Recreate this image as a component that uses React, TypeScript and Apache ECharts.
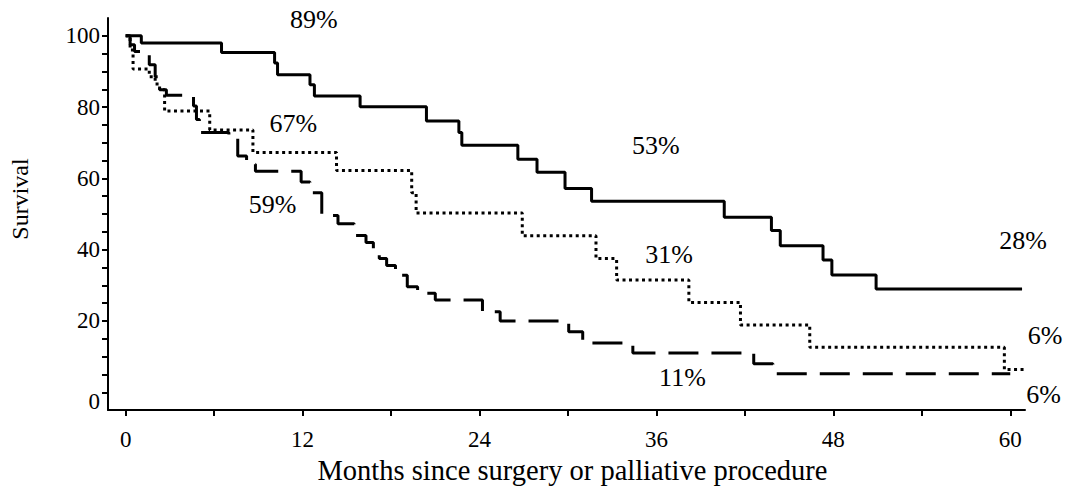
import React, { useEffect, useRef } from "react";
import * as echarts from "echarts";

// Kaplan–Meier style step curves: [month, survival %] — value from that month on
const solidCurve: number[][] = [
  [0, 100], [1.06, 98], [6.5, 95.3], [10.1, 92.4], [10.3, 89.1], [12.5, 86.3],
  [12.8, 83.1], [15.9, 80.1], [20.4, 76.1], [22.6, 72.9], [22.8, 69.3],
  [26.6, 65.4], [27.9, 61.7], [29.8, 57.2], [31.6, 53.6], [40.6, 49.1],
  [43.8, 45.4], [44.4, 41.1], [47.3, 37.1], [47.9, 32.9], [50.9, 29.0],
  [60.8, 29.0],
];

const dottedCurve: number[][] = [
  [0, 100], [0.3, 96], [0.5, 90.7], [1.6, 88.5], [2.0, 86.5], [2.3, 84.9],
  [2.64, 78.9], [5.7, 73.6], [8.63, 67.3], [14.3, 62.2], [19.4, 56.0],
  [19.7, 50.3], [26.9, 43.9], [31.9, 37.5], [33.3, 31.5], [38.2, 25.2],
  [41.7, 18.9], [46.4, 12.6], [59.6, 6.4], [61.25, 6.4],
];

const dashedCurve: number[][] = [
  [0, 100], [0.3, 97.5], [0.6, 95.6], [1.6, 91.9], [2.0, 88.5], [2.3, 84.9],
  [2.76, 83.3], [4.6, 80.3], [4.8, 76.5], [5.0, 72.9], [7.0, 71.5],
  [7.6, 66.3], [8.2, 64.0], [8.8, 62.0], [11.9, 59.0], [12.5, 56.0],
  [13.3, 49.6], [14.4, 47.3], [15.5, 44.0], [16.3, 42.0], [16.8, 40.0],
  [17.2, 37.5], [17.7, 35.6], [18.3, 32.8], [19.1, 29.6], [19.8, 27.8],
  [21.0, 25.9], [24.2, 22.6], [25.4, 20.0], [30.05, 17.0], [31.0, 13.8],
  [34.4, 11.0], [42.6, 8.0], [43.9, 5.2], [60.0, 5.2],
];

// Annotation texts placed in data coordinates: [month, survival, text]
const annotations: [number, number, string][] = [
  [12.8, 104.5, "89%"],
  [11.4, 75.2, "67%"],
  [10.0, 52.6, "59%"],
  [36.0, 69.0, "53%"],
  [36.9, 38.4, "31%"],
  [60.9, 42.3, "28%"],
  [62.4, 15.8, "6%"],
  [37.8, 4.0, "11%"],
  [62.3, -0.7, "6%"],
];

const xTickLabels = [0, 12, 24, 36, 48, 60];
const xTicks = [0, 6, 12, 18, 24, 30, 36, 42, 48, 54, 60];
const yTickLabels = [0, 20, 40, 60, 80, 100];
const yTicks = [0, 5, 10, 15, 20, 25, 30, 35, 40, 45, 50, 55, 60, 65, 70, 75, 80, 85, 90, 95, 100];

const FONT = "'Liberation Serif', 'Times New Roman', serif";
const INK = "#000";

export default function App() {
  const ref = useRef<HTMLDivElement>(null);
  useEffect(() => {
    if (!ref.current) return;
    const chart = echarts.init(ref.current, null, { renderer: "svg" });
    const annLabel = {
      show: true,
      position: [0, 0],
      align: "center",
      verticalAlign: "middle",
      fontFamily: FONT,
      fontSize: 26,
      color: INK,
      opacity: 1,
      textBorderWidth: 0,
    };
    chart.setOption({
      animation: false,
      backgroundColor: "#fff",
      grid: { left: 108, right: 43, top: 18, bottom: 78, containLabel: false },
      xAxis: {
        type: "value",
        min: -1.2,
        max: 61,
        name: "Months since surgery or palliative procedure",
        nameLocation: "middle",
        nameGap: 37,
        nameTextStyle: { fontFamily: FONT, fontSize: 28.5, color: INK, padding: [0, 0, 0, 12] },
        axisLine: { show: true, onZero: false, lineStyle: { color: INK, width: 2 } },
        axisTick: { show: true, customValues: xTicks, length: 6, lineStyle: { color: INK, width: 2 } },
        axisLabel: { customValues: xTickLabels, fontFamily: FONT, fontSize: 23, color: INK, margin: 18 },
        splitLine: { show: false },
      },
      yAxis: {
        type: "value",
        min: -5,
        max: 105,
        name: "Survival",
        nameLocation: "middle",
        nameRotate: 90,
        nameGap: 76,
        nameTextStyle: { fontFamily: FONT, fontSize: 24, color: INK, padding: [0, 0, 0, 30] },
        axisLine: { show: true, onZero: false, lineStyle: { color: INK, width: 2 } },
        axisTick: { show: true, customValues: yTicks, length: 6, lineStyle: { color: INK, width: 2 } },
        axisLabel: {
          customValues: yTickLabels,
          fontFamily: FONT,
          fontSize: 23,
          color: INK,
          margin: 8,
          formatter: (v: number) => (v === 0 ? "{z|0}" : String(v)),
          rich: { z: { fontFamily: FONT, fontSize: 23, color: INK, padding: [18, 0, 0, 0] } },
        },
        splitLine: { show: false },
      },
      series: [
        {
          type: "line",
          data: dashedCurve,
          step: "end",
          symbol: "none",
          clip: false,
          lineStyle: { color: INK, width: 3, type: [30, 13], cap: "butt" },
          z: 2,
        },
        {
          type: "line",
          data: dottedCurve,
          step: "end",
          symbol: "none",
          clip: false,
          lineStyle: { color: INK, width: 3, type: [3, 3.5], cap: "butt" },
          z: 3,
        },
        {
          type: "line",
          data: solidCurve,
          step: "end",
          symbol: "none",
          clip: false,
          lineStyle: { color: INK, width: 3, type: "solid" },
          z: 4,
        },
        {
          type: "scatter",
          symbol: "circle",
          symbolSize: 1,
          clip: false,
          itemStyle: { color: "rgba(0,0,0,0)" },
          data: annotations.map((a) => ({
            value: [a[0], a[1]],
            label: { ...annLabel, formatter: a[2] },
          })),
          label: annLabel,
          emphasis: { disabled: true },
          z: 5,
        },
      ],
    });
    return () => chart.dispose();
  }, []);
  return (
    <div
      ref={ref}
      style={{ position: "fixed", left: 0, top: 0, width: 1068, height: 490, background: "#fff" }}
    />
  );
}
